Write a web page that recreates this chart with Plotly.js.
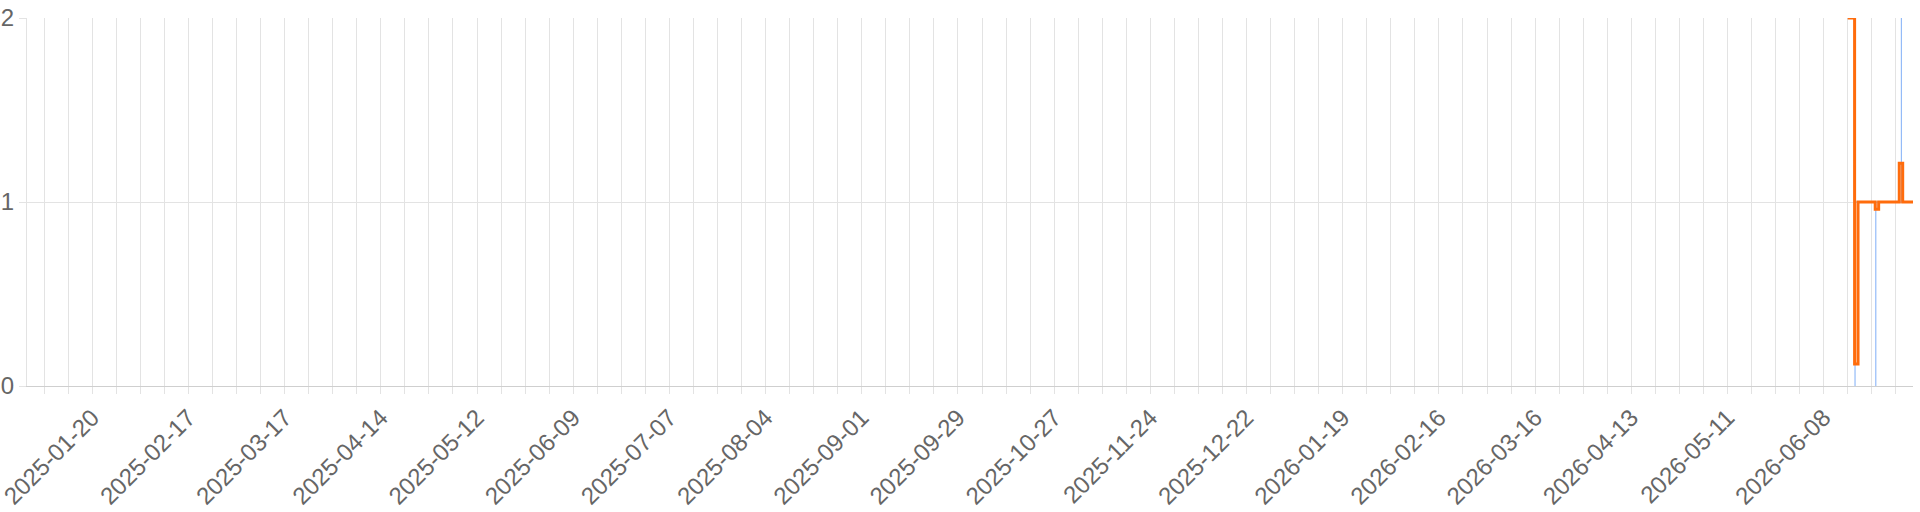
<!DOCTYPE html>
<html>
<head>
<meta charset="utf-8">
<script src="https://cdn.plot.ly/plotly-3.0.1.min.js"></script>
<style>
  html, body { margin: 0; padding: 0; background: #fff; }
  #chart { width: 1920px; height: 512px; }
</style>
</head>
<body>
<div id="chart"></div>
<script>
// raw readings (thin blue) - mostly hidden under the daily step line
var rawDates = ['2026-06-15', '2026-06-17 03:00', '2026-06-17 03:00', '2026-06-17 03:00',
  '2026-06-23 04:00', '2026-06-23 04:00', '2026-06-23 04:00',
  '2026-06-30 15:00', '2026-06-30 15:00', '2026-06-30 15:00', '2026-07-04'];
var rawValues = [2, 2, 0, 1, 1, 0, 1, 1, 2, 1, 1];

// daily values (orange step line)
var dailyDates = ['2026-06-15', '2026-06-17', '2026-06-18', '2026-06-23', '2026-06-24',
  '2026-06-30', '2026-07-01', '2026-07-04'];
var dailyValues = [2, 0.12, 1, 0.96, 1, 1.21, 1, 1];

var xRange = ['2025-01-01', '2026-07-04'];
var yTicks = [0, 1, 2];

var raw = {
  x: rawDates,
  y: rawValues,
  mode: 'lines',
  type: 'scatter',
  cliponaxis: false,
  line: { color: 'rgba(90,150,245,0.65)', width: 1.2 },
  hoverinfo: 'skip'
};

var daily = {
  x: dailyDates,
  y: dailyValues,
  mode: 'lines',
  type: 'scatter',
  cliponaxis: false,
  line: { color: '#ff6c0c', width: 3, shape: 'hv' }
};

var tickFont = { family: '"Liberation Sans", Arial, sans-serif', size: 24, color: '#666666' };

var layout = {
  width: 1920,
  height: 512,
  margin: { l: 27, r: 7, t: 18, b: 126 },
  paper_bgcolor: '#ffffff',
  plot_bgcolor: '#ffffff',
  showlegend: false,
  xaxis: {
    type: 'date',
    range: xRange,
    tick0: '2025-01-20',
    dtick: 7 * 86400000,
    ticklabelstep: 4,
    ticklabeloverflow: 'allow',
    tickformat: '%Y-%m-%d',
    tickangle: -45,
    ticks: 'outside',
    ticklen: 7,
    tickcolor: '#e3e3e3',
    gridcolor: '#e3e3e3',
    showline: true,
    linecolor: '#cfcfcf',
    zeroline: false,
    tickfont: tickFont
  },
  yaxis: {
    range: [0, 2],
    tickvals: yTicks,
    ticks: 'outside',
    ticklen: 7,
    tickcolor: '#e3e3e3',
    gridcolor: '#e3e3e3',
    showline: true,
    linecolor: '#e3e3e3',
    zeroline: false,
    tickfont: tickFont
  }
};

Plotly.newPlot('chart', [raw, daily], layout, { displayModeBar: false, staticPlot: true });
</script>
</body>
</html>
